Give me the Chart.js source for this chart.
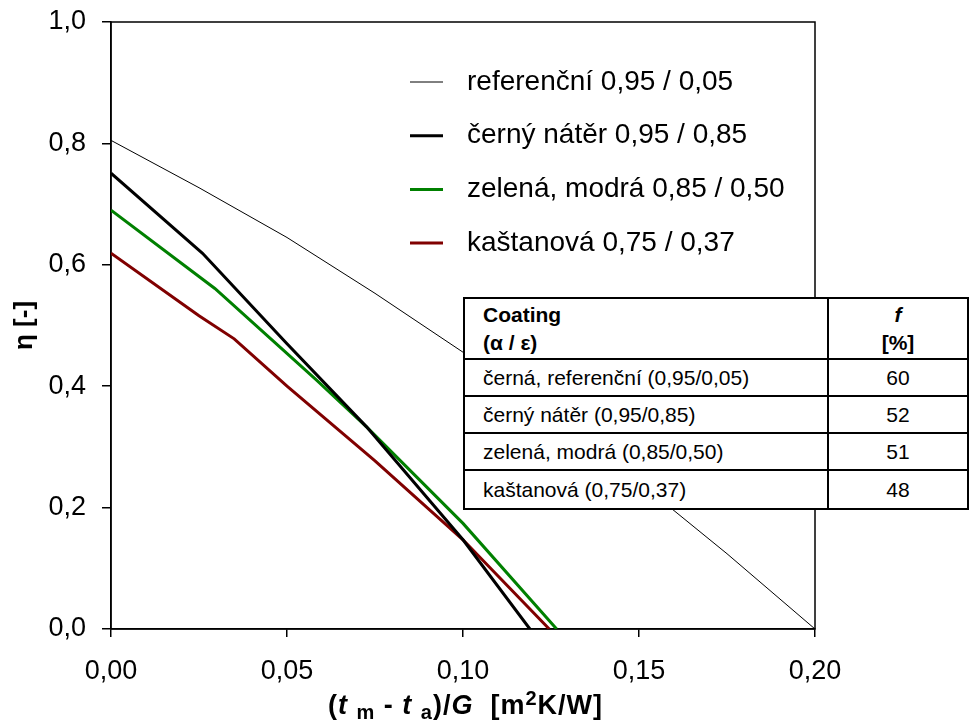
<!DOCTYPE html>
<html>
<head>
<meta charset="utf-8">
<script src="https://cdn.jsdelivr.net/npm/chart.js@4.4.1/dist/chart.umd.min.js"></script>
<style>
  body { margin: 0; background: #fff; }
  #wrap { position: relative; width: 972px; height: 727px; font-family: "Liberation Sans", Arial, sans-serif; }
  #chart { position: absolute; left: 0; top: 0; }
  #xtitle { position: absolute; left: 328px; top: 690px; font-size: 27px; font-weight: bold; white-space: nowrap; line-height: 30px; letter-spacing: 1px; }
  #xtitle sub { font-size: 20px; vertical-align: -5px; line-height: 0; }
  #xtitle sup { font-size: 20px; vertical-align: 9px; line-height: 0; }
  #coat { position: absolute; left: 463px; top: 297px; width: 506px; border-collapse: collapse; background: #fff; font-size: 21px; }
  #coat td { border: 2px solid #000; padding: 0 0 0 18px; height: 35px; }
  #coat td.v { text-align: center; padding: 0; width: 138px; }
  #coat tr.h td { height: 59px; font-weight: bold; line-height: 28px; vertical-align: middle; }
  #coat tr.last td { height: 37px; }
</style>
</head>
<body>
<div id="wrap">
  <canvas id="chart" width="972" height="727"></canvas>
  <div id="xtitle">(<i>t</i> <sub>m</sub> - <i>t</i> <sub>a</sub>)/<i>G</i>&nbsp; [m<sup>2</sup>K/W]</div>
  <table id="coat"></table>
</div>
<script>
// values
const seriesNames = ["referenční 0,95 / 0,05", "černý nátěr 0,95 / 0,85", "zelená, modrá 0,85 / 0,50", "kaštanová 0,75 / 0,37"];

const refX = [0, 0.025, 0.05, 0.075, 0.1, 0.125, 0.15, 0.175, 0.2];
const refEta = [0.805, 0.727, 0.645, 0.553, 0.456, 0.352, 0.242, 0.124, 0];

const blackX = [0, 0.026, 0.05, 0.0726, 0.1, 0.119];
const blackEta = [0.751, 0.619, 0.47, 0.333, 0.147, 0];

const greenX = [0, 0.0295, 0.0584, 0.0726, 0.1, 0.1266];
const greenEta = [0.69, 0.561, 0.41, 0.333, 0.174, 0];

const redX = [0, 0.025, 0.035, 0.05, 0.075, 0.1, 0.1245];
const redEta = [0.619, 0.516, 0.478, 0.4, 0.277, 0.147, 0];

const xTicks = [0, 0.05, 0.1, 0.15, 0.2];
const yTicks = [0, 0.2, 0.4, 0.6, 0.8, 1.0];

const tableCoatings = ["černá, referenční (0,95/0,05)", "černý nátěr (0,95/0,85)", "zelená, modrá (0,85/0,50)", "kaštanová (0,75/0,37)"];
const tableF = [60, 52, 51, 48];

const toPoints = (xs, ys) => xs.map((x, i) => ({ x: x, y: ys[i] }));

// table overlay
const table = document.getElementById("coat");
let rows = '<tr class="h"><td>Coating<br>(α / ε)</td><td class="v"><i>f</i><br>[%]</td></tr>';
tableCoatings.forEach((c, i) => {
  const cls = i === tableCoatings.length - 1 ? ' class="last"' : "";
  rows += "<tr" + cls + "><td>" + c + '</td><td class="v">' + tableF[i] + "</td></tr>";
});
table.innerHTML = rows;

const fontFamily = '"Liberation Sans", Arial, sans-serif';

const frame = {
  id: "frame",
  beforeDatasetsDraw(chart) {
    const { ctx, chartArea: a } = chart;
    ctx.save();
    ctx.strokeStyle = "#000";
    ctx.lineWidth = 1.5;
    ctx.strokeRect(a.left, a.top, a.right - a.left, a.bottom - a.top);
    ctx.restore();
  }
};

const innerLegend = {
  id: "innerLegend",
  afterDatasetsDraw(chart) {
    const ctx = chart.ctx;
    ctx.save();
    ctx.font = "28px " + fontFamily;
    ctx.textBaseline = "middle";
    ctx.fillStyle = "#000";
    chart.data.datasets.forEach((ds, i) => {
      const y = 82 + i * 53.7;
      ctx.strokeStyle = ds.borderColor;
      ctx.lineWidth = ds.borderWidth;
      ctx.beginPath();
      ctx.moveTo(410, y);
      ctx.lineTo(443, y);
      ctx.stroke();
      ctx.fillText(ds.label, 467, y);
    });
    ctx.restore();
  }
};

new Chart(document.getElementById("chart"), {
  type: "line",
  data: {
    datasets: [
      { label: seriesNames[0], data: toPoints(refX, refEta), borderColor: "#000", borderWidth: 1 },
      { label: seriesNames[1], data: toPoints(blackX, blackEta), borderColor: "#000", borderWidth: 3 },
      { label: seriesNames[2], data: toPoints(greenX, greenEta), borderColor: "#008000", borderWidth: 3 },
      { label: seriesNames[3], data: toPoints(redX, redEta), borderColor: "#800000", borderWidth: 3 }
    ]
  },
  options: {
    responsive: false,
    animation: false,
    devicePixelRatio: 1,
    layout: { padding: { left: 0, top: 22, right: 157, bottom: 0 } },
    elements: { point: { radius: 0 }, line: { tension: 0 } },
    plugins: { legend: { display: false }, tooltip: { enabled: false } },
    scales: {
      x: {
        type: "linear",
        min: 0,
        max: 0.2,
        afterFit: (s) => { s.height = 98; s.paddingLeft = 0; s.paddingRight = 0; },
        afterBuildTicks: (s) => { s.ticks = xTicks.map((v) => ({ value: v })); },
        grid: { drawOnChartArea: false, tickLength: 8, color: "#000", lineWidth: 1.5 },
        border: { color: "#000", width: 1.5 },
        ticks: {
          color: "#000",
          padding: 18,
          font: { family: fontFamily, size: 27 },
          callback: (v) => v.toFixed(2).replace(".", ",")
        }
      },
      y: {
        min: 0,
        max: 1,
        afterFit: (s) => { s.width = 111; s.paddingTop = 0; s.paddingBottom = 0; },
        afterBuildTicks: (s) => { s.ticks = yTicks.map((v) => ({ value: v })); },
        grid: { drawOnChartArea: false, tickLength: 9, color: "#000", lineWidth: 1.5 },
        border: { color: "#000", width: 1.5 },
        ticks: {
          color: "#000",
          padding: 16,
          font: { family: fontFamily, size: 27 },
          callback: (v) => v.toFixed(1).replace(".", ",")
        },
        title: {
          display: true,
          text: "η [-]",
          color: "#000",
          padding: { top: 9 },
          font: { family: fontFamily, size: 26, weight: "bold" }
        }
      }
    }
  },
  plugins: [frame, innerLegend]
});
</script>
</body>
</html>
